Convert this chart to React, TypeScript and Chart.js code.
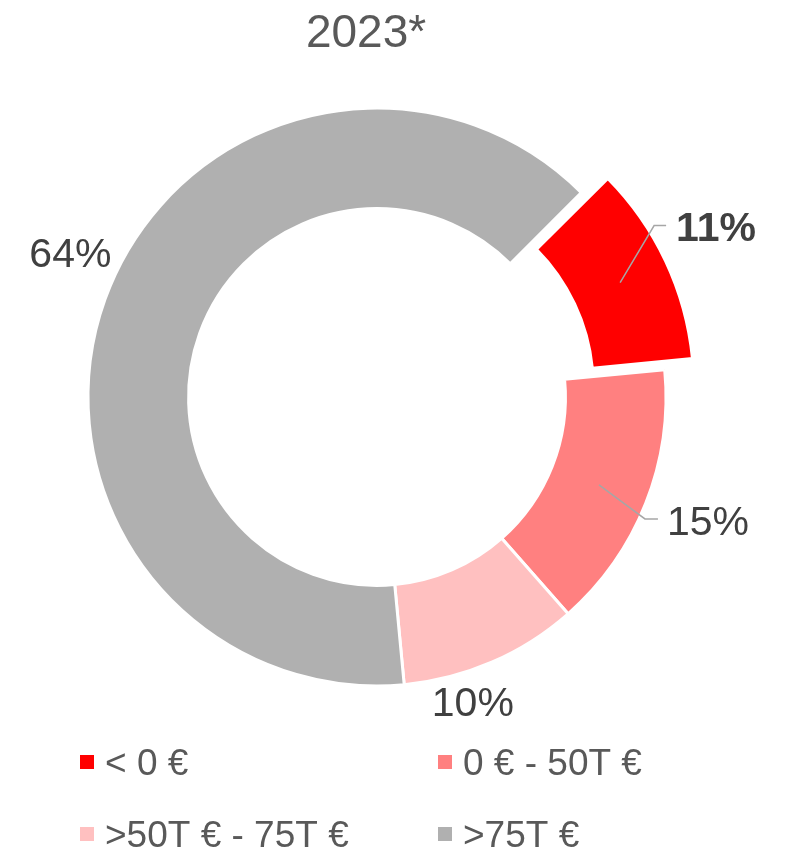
import React, { useEffect, useRef } from 'react';
import { Chart, registerables } from 'chart.js';

Chart.register(...registerables);

const title = '2023*';
const categories = ['< 0 €', '0 € - 50T €', '>50T € - 75T €', '>75T €'];
const shares = [11, 15, 10, 64];
const valueLabels = ['11%', '15%', '10%', '64%'];
const colors = ['#FF0000', '#FF8080', '#FFC0C0', '#B0B0B0'];
const boldLabel = [true, false, false, false];

const FONT = '"Liberation Sans", Arial, sans-serif';

// label placement relative to each slice's centre point
const labelLayout = [
  { leader: true, ex: 34, ey: -57, tail: 12, tx: 56, ty: -42, align: 'left' },
  { leader: true, ex: 46, ey: 34, tail: 13, tx: 68, ty: 50, align: 'left' },
  { leader: false, ex: 0, ey: 0, tail: 0, tx: 1, ty: 100, align: 'center' },
  { leader: false, ex: 0, ey: 0, tail: 0, tx: -82, ty: -49, align: 'center' },
];

const decorPlugin = {
  id: 'decor',
  afterDraw(chart: any) {
    const ctx: CanvasRenderingContext2D = chart.ctx;
    const meta = chart.getDatasetMeta(0);
    ctx.save();
    // title
    ctx.fillStyle = '#595959';
    ctx.font = `46px ${FONT}`;
    ctx.textAlign = 'center';
    ctx.textBaseline = 'alphabetic';
    ctx.fillText(title, 366, 47);

    // slice labels
    meta.data.forEach((arc: any, i: number) => {
      const p = arc.getProps(['x', 'y', 'startAngle', 'endAngle', 'innerRadius', 'outerRadius'], true);
      const t = (arc.options.offset || 0) / 4; // Chart.js translates arcs by offset / 4
      const circ = p.endAngle - p.startAngle;
      const grow = t * (1 - Math.sin(Math.min(Math.PI, circ)));
      const mid = (p.startAngle + p.endAngle) / 2;
      const r = (p.innerRadius + p.outerRadius) / 2 + t + grow;
      const cx = p.x + Math.cos(mid) * r;
      const cy = p.y + Math.sin(mid) * r;
      const L = labelLayout[i];
      if (L.leader) {
        ctx.strokeStyle = '#A6A6A6';
        ctx.lineWidth = 1.5;
        ctx.beginPath();
        ctx.moveTo(cx, cy);
        ctx.lineTo(cx + L.ex, cy + L.ey);
        ctx.lineTo(cx + L.ex + L.tail, cy + L.ey);
        ctx.stroke();
      }
      ctx.fillStyle = '#404040';
      ctx.font = `${boldLabel[i] ? 'bold ' : ''}41px ${FONT}`;
      ctx.textAlign = L.align as CanvasTextAlign;
      ctx.fillText(valueLabels[i], cx + L.tx, cy + L.ty);
    });

    // legend (two columns)
    const cols = [80, 438];
    const rows = [755, 827];
    ctx.font = `37px ${FONT}`;
    ctx.textAlign = 'left';
    categories.forEach((c, i) => {
      const x = cols[i % 2];
      const y = rows[Math.floor(i / 2)];
      ctx.fillStyle = colors[i];
      ctx.fillRect(x, y, 14, 14);
      ctx.fillStyle = '#595959';
      ctx.fillText(c, x + 25, y + 20);
    });
    ctx.restore();
  },
};

export default function App() {
  const ref = useRef<HTMLCanvasElement>(null);
  useEffect(() => {
    if (!ref.current) return;
    const chart = new Chart(ref.current, {
      type: 'doughnut',
      data: {
        labels: categories,
        datasets: [
          {
            data: shares,
            backgroundColor: colors,
            borderColor: '#FFFFFF',
            borderWidth: 3,
            offset: [88, 0, 0, 0],
            hoverOffset: 0,
          },
        ],
      },
      options: {
        responsive: false,
        animation: false,
        events: [],
        rotation: 45,
        radius: 289,
        cutout: '65.2%',
        layout: { padding: { left: 20, right: 51, top: 20, bottom: 75 } },
        plugins: {
          legend: { display: false },
          title: { display: false },
          tooltip: { enabled: false },
        },
      },
      plugins: [decorPlugin],
    } as any);
    return () => chart.destroy();
  }, []);
  return (
    <div style={{ position: 'absolute', left: 0, top: 0, width: 785, height: 849, background: '#fff' }}>
      <canvas ref={ref} width={785} height={849} />
    </div>
  );
}
